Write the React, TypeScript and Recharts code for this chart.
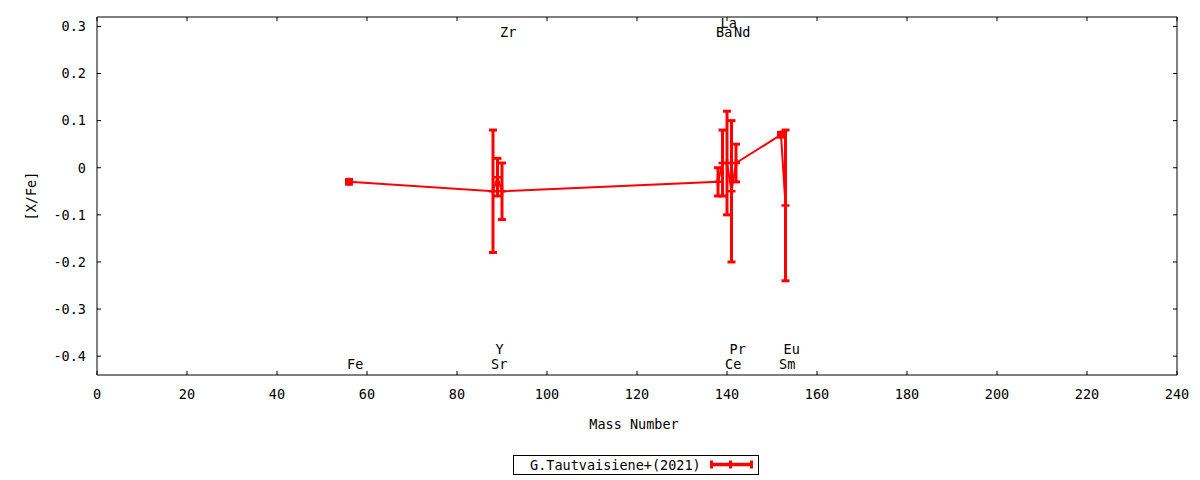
import React from 'react';
import { ComposedChart, Line, XAxis, YAxis, ErrorBar, Scatter } from 'recharts';

// ---- data ----
const elements = ['Fe', 'Sr', 'Y', 'Zr', 'Ba', 'La', 'Ce', 'Pr', 'Nd', 'Sm', 'Eu'];
const massNumbers = [56, 88, 89, 90, 138, 139, 140, 141, 142, 152, 153];
const abundances = [-0.03, -0.05, -0.02, -0.05, -0.03, 0.01, 0.01, -0.05, 0.01, 0.07, -0.08];
const abundanceErrors = [0.005, 0.13, 0.04, 0.06, 0.03, 0.07, 0.11, 0.15, 0.04, 0.005, 0.16];
const labelRows = ['low', 'low', 'low2', 'high', 'high', 'high2', 'low', 'low2', 'high', 'low', 'low2'];
const xTicks = [0, 20, 40, 60, 80, 100, 120, 140, 160, 180, 200, 220, 240];
const yTicks = [-0.4, -0.3, -0.2, -0.1, 0, 0.1, 0.2, 0.3];
const seriesName = 'G.Tautvaisiene+(2021)';
const xTitle = 'Mass Number';
const yTitle = '[X/Fe]';

// ---- derived tables ----
const ROW_Y: Record<string, number> = { high: 0.2876, high2: 0.306, low: -0.416, low2: -0.386 };
const lineData = massNumbers.map((m, i) => ({ mass: m, xfe: abundances[i], err: abundanceErrors[i] }));
const labelData = massNumbers.map((m, i) => ({ mass: m, ly: ROW_Y[labelRows[i]], el: elements[i] }));

const FONT = '"DejaVu Sans Mono", monospace';
const FS = 13.5;
const RED = '#ff0000';

const PlusDot = (props: any) => {
  const { cx, cy, index } = props;
  if (cx == null || cy == null) return <g key={`d${index}`} />;
  return (
    <path
      key={`d${index}`}
      d={`M${cx - 4},${cy}H${cx + 4}M${cx},${cy - 4}V${cy + 4}`}
      stroke={RED}
      strokeWidth={2.5}
      fill="none"
    />
  );
};

const LabelShape = (props: any) => {
  const { cx, cy, payload } = props;
  return (
    <text x={cx - 2} y={cy} dy="0.36em" textAnchor="start" fontFamily={FONT} fontSize={FS} fill="#000">
      {payload.el}
    </text>
  );
};

const EmptyTick = () => <g />;

const tickStyle = { fill: '#000', fontSize: FS, fontFamily: FONT };

export default function App() {
  return (
    <div style={{ position: 'absolute', left: 0, top: 0, width: 1200, height: 480, background: '#fff', fontFamily: FONT }}>
      <ComposedChart width={1200} height={480} data={lineData} margin={{ top: 16, right: 22, bottom: 0, left: 0 }}>
        <XAxis
          xAxisId="bottom"
          type="number"
          dataKey="mass"
          domain={[0, 240]}
          ticks={xTicks}
          interval={0}
          height={105}
          tickSize={-4}
          tickMargin={18}
          stroke="#000"
          tick={tickStyle}
          allowDataOverflow
        />
        <XAxis
          xAxisId="top"
          orientation="top"
          type="number"
          dataKey="mass"
          domain={[0, 240]}
          ticks={xTicks}
          interval={0}
          height={1}
          tickSize={-4}
          tickMargin={0}
          stroke="#000"
          tick={EmptyTick}
          allowDataOverflow
        />
        <YAxis
          yAxisId="left"
          type="number"
          domain={[-0.44, 0.32]}
          ticks={yTicks}
          interval={0}
          width={97}
          tickSize={-4}
          tickMargin={15}
          stroke="#000"
          tick={tickStyle}
          tickFormatter={(v: number) => String(Math.round(v * 10) / 10)}
          allowDataOverflow
        />
        <YAxis
          yAxisId="right"
          orientation="right"
          type="number"
          domain={[-0.44, 0.32]}
          ticks={yTicks}
          interval={0}
          width={1}
          tickSize={-4}
          tickMargin={0}
          stroke="#000"
          tick={EmptyTick}
          allowDataOverflow
        />
        <Line
          xAxisId="bottom"
          yAxisId="left"
          type="linear"
          dataKey="xfe"
          name={seriesName}
          stroke={RED}
          strokeWidth={2}
          dot={PlusDot}
          activeDot={false}
          isAnimationActive={false}
        >
          <ErrorBar dataKey="err" direction="y" width={4} strokeWidth={3} stroke={RED} isAnimationActive={false} />
        </Line>
        <Scatter
          xAxisId="top"
          yAxisId="right"
          data={labelData}
          dataKey="ly"
          shape={LabelShape}
          isAnimationActive={false}
        />
      </ComposedChart>
      <svg
        width={1200}
        height={480}
        style={{ position: 'absolute', left: 0, top: 0, pointerEvents: 'none' }}
      >
        <text
          x={31}
          y={196}
          dy="0.36em"
          textAnchor="middle"
          transform="rotate(-90 31 196)"
          fontFamily={FONT}
          fontSize={FS}
          fill="#000"
        >
          {yTitle}
        </text>
        <text x={634} y={424} dy="0.36em" textAnchor="middle" fontFamily={FONT} fontSize={FS} fill="#000">
          {xTitle}
        </text>
        <rect x={513.5} y={455.5} width={245} height={19} fill="none" stroke="#000" strokeWidth={1} />
        <text x={530} y={465} dy="0.36em" textAnchor="start" fontFamily={FONT} fontSize={FS} fill="#000">
          {seriesName}
        </text>
        <line x1={710} y1={464.5} x2={753} y2={464.5} stroke={RED} strokeWidth={3.5} />
        <line x1={711.5} y1={460.5} x2={711.5} y2={468.5} stroke={RED} strokeWidth={3} />
        <line x1={730.5} y1={460.5} x2={730.5} y2={468.5} stroke={RED} strokeWidth={3} />
        <line x1={751.5} y1={460.5} x2={751.5} y2={468.5} stroke={RED} strokeWidth={3} />
      </svg>
    </div>
  );
}
